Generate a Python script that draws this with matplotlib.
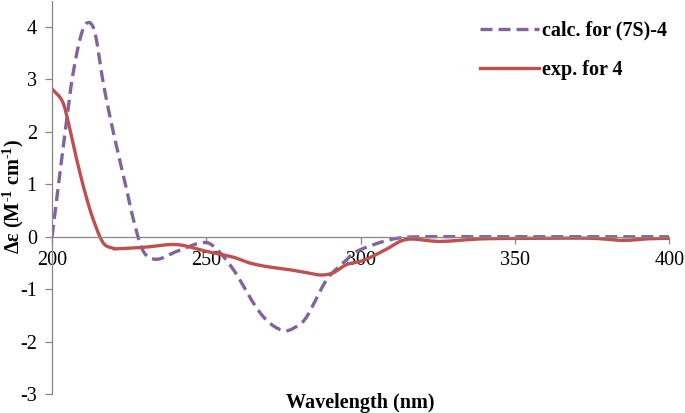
import numpy as np
import matplotlib.pyplot as plt

# ── DATA ──────────────────────────────────────────────────────────────────────
calc_x = [200, 202, 204.2, 206.3, 209, 211.4, 213.9, 216.6, 219.9, 223.7, 226.4,
          229.6, 233.9, 240.4, 248, 252.3, 258.8, 265.3, 270, 275, 279, 282.6,
          289, 295.5, 297.7, 304.2, 311.7, 320, 340, 360, 380, 400]
calc_y = [0, 0.96, 1.98, 2.93, 3.76, 4.08, 3.89, 2.93, 1.98, 1.02, 0.32,
          -0.28, -0.43, -0.28, -0.12, -0.18, -0.63, -1.27, -1.62, -1.79, -1.72, -1.52,
          -0.82, -0.44, -0.31, -0.15, -0.03, 0.0, 0.0, 0.0, 0.0, 0.0]

exp_x = [200, 203.1, 204.8, 208, 210.7, 213.4, 216.6, 219.9, 221, 230, 240.4,
         250.1, 258.7, 264, 269.6, 276, 282, 286.9, 291, 295.5, 301, 308, 315,
         325.8, 339.7, 360, 375, 385, 393, 400]
exp_y = [2.82, 2.61, 2.30, 1.47, 0.84, 0.32, -0.12, -0.22, -0.23, -0.20, -0.15,
         -0.28, -0.39, -0.50, -0.57, -0.62, -0.68, -0.73, -0.69, -0.53, -0.45, -0.25, -0.05,
         -0.09, -0.04, -0.03, -0.03, -0.07, -0.04, -0.03]

PURPLE = "#8064A2"
RED    = "#C0504D"
GRAY   = "#868686"

plt.rcParams.update({
    "font.family": "Liberation Serif",
    "font.size": 14,
    "axes.unicode_minus": False,
    "mathtext.fontset": "custom",
    "mathtext.rm": "Liberation Serif:bold",
    "mathtext.it": "Liberation Serif:bold",
    "mathtext.bf": "Liberation Serif:bold",
})


def smooth(x, y, n=12):
    # Catmull-Rom curve through the read points (Excel-style smoothed line)
    x = np.asarray(x, float); y = np.asarray(y, float)
    px = np.concatenate([[2 * x[0] - x[1]], x, [2 * x[-1] - x[-2]]])
    py = np.concatenate([[2 * y[0] - y[1]], y, [2 * y[-1] - y[-2]]])
    t = np.linspace(0, 1, n, endpoint=False)[:, None]
    xs, ys = [], []
    for i in range(1, len(px) - 2):
        for p, out in ((px, xs), (py, ys)):
            p0, p1, p2, p3 = p[i - 1], p[i], p[i + 1], p[i + 2]
            out.append((0.5 * (2 * p1 + (-p0 + p2) * t + (2 * p0 - 5 * p1 + 4 * p2 - p3) * t**2
                               + (-p0 + 3 * p1 - 3 * p2 + p3) * t**3)).ravel())
    return np.append(np.concatenate(xs), x[-1]), np.append(np.concatenate(ys), y[-1])


# ── PLOT ──────────────────────────────────────────────────────────────────────
fig = plt.figure(figsize=(6.85, 4.13), dpi=100)
ax = fig.add_axes([0.076, 0.046, 0.901, 0.952])

ax.plot(*smooth(calc_x, calc_y), color=PURPLE, lw=2.4, ls=(0, (3.6, 1.8)),
        label="calc. for (7S)-4")
ax.plot(*smooth(exp_x, exp_y), color=RED, lw=2.4, label="exp. for 4")

ax.set_xlim(200, 400)
ax.set_ylim(-3, 4.5)
ax.set_xticks([200, 250, 300, 350, 400])
ax.set_yticks(range(-3, 5))

for s in ["top", "right"]:
    ax.spines[s].set_visible(False)
ax.spines["bottom"].set_position(("data", 0))
for s in ["left", "bottom"]:
    ax.spines[s].set_color(GRAY)
    ax.spines[s].set_linewidth(0.9)
ax.tick_params(axis="both", color=GRAY, length=5, width=0.9, labelsize=14.5)
ax.tick_params(axis="x", pad=5)
ax.tick_params(axis="y", pad=6)

fig.text(0.019, 0.525, "Δε (M$^{\u20101}$ cm$^{\u20101}$)", rotation=90, ha="center",
         va="center", fontweight="bold", fontsize=14.5)
fig.text(0.526, 0.024, "Wavelength (nm)", ha="center", va="center",
         fontweight="bold", fontsize=14.5)

ax.legend(loc="upper right", bbox_to_anchor=(1.025, 0.995), frameon=False,
          prop={"weight": "bold", "size": 14.5}, handlelength=2.9,
          handletextpad=0.15, labelspacing=0.95)

fig.savefig("out.png", dpi=100)
